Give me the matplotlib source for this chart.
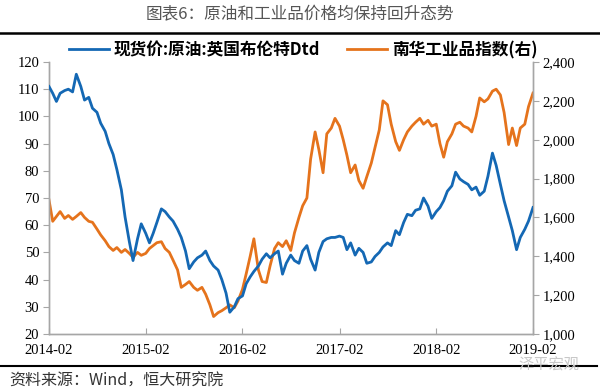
import numpy as np
import pandas as pd
import matplotlib
matplotlib.use("Agg")
import matplotlib.pyplot as plt
import matplotlib.dates as mdates
from matplotlib.ticker import FuncFormatter, MultipleLocator

CJK = ['Noto Sans CJK SC', 'DejaVu Sans']
NUM = ['Liberation Serif', 'DejaVu Serif']

# semi-monthly points, 2014-02 .. 2019-02
dates = pd.date_range('2014-02-01', periods=121, freq='SMS')

brent = [
    111, 108.5, 105.5, 108.5, 109.5, 110, 109, 115.5, 111, 106,
    107, 103, 101.5, 97.5, 94.5, 90, 86, 80.5, 73, 63,
    54, 47, 55, 60.5, 57, 53.5, 57, 61, 66, 65,
    63, 61.5, 58.5, 55.5, 50.5, 44, 46.5, 48, 49, 50.5,
    47, 45, 43.5, 40, 35, 28, 30, 33, 34, 38.5,
    41, 43, 45, 47.5, 49.5, 48, 49.5, 50.5, 42, 46,
    49, 47, 46, 50.5, 52.5, 47.5, 43.5, 50, 54, 55,
    55.5, 55.5, 56, 55.5, 51, 53.5, 49, 51.5, 50, 46,
    46.5, 48.5, 50, 52, 53.5, 52.5, 58, 56.5, 61, 64,
    63.5, 65.5, 66, 70, 67, 62.5, 65, 66.5, 69, 72.5,
    74.5, 79.5, 77, 76, 75, 73, 74, 71, 72.5, 78,
    86.5, 82, 75, 69, 63, 58, 51, 55.5, 58.5, 61.5,
    66.5,
]

nanhua = [
    1690, 1580, 1605, 1630, 1595, 1610, 1590, 1605, 1625, 1600,
    1580, 1575, 1540, 1510, 1480, 1450, 1430, 1445, 1420, 1435,
    1415, 1395, 1420, 1405, 1415, 1440, 1455, 1470, 1475, 1440,
    1420, 1380, 1330, 1240, 1255, 1270, 1240, 1225, 1240, 1205,
    1150, 1090, 1110, 1120, 1135, 1150, 1135, 1170, 1230, 1310,
    1400, 1490, 1330, 1270, 1265, 1350, 1440, 1470, 1450, 1480,
    1430, 1520, 1600, 1660, 1700, 1900, 2040, 1950, 1830, 2030,
    2060, 2110, 2070, 2000, 1920, 1830, 1870, 1790, 1750, 1810,
    1880, 1960, 2050, 2200, 2180, 2080, 1990, 1945, 2000, 2040,
    2070, 2090, 2110, 2080, 2100, 2070, 2080, 1980, 1910, 1990,
    2030, 2080, 2090, 2070, 2060, 2040, 2120, 2215, 2195, 2210,
    2250, 2260, 2230, 2140, 1975, 2060, 1970, 2060, 2080, 2170,
    2240,
]

tick_dates = pd.to_datetime(['2014-02-01', '2015-02-01', '2016-02-01',
                             '2017-02-01', '2018-02-01', '2019-02-01'])

blue = '#1468B4'
orange = '#E5731C'
axis_gray = '#A6A6A6'

fig = plt.figure(figsize=(6, 3.92), dpi=100)
ax = fig.add_axes([49 / 600, 1 - 334 / 392, 484 / 600, 272 / 392])
ax2 = ax.twinx()

l1, = ax.plot(dates, brent, color=blue, lw=2.0, zorder=3)
l2, = ax2.plot(dates, nanhua, color=orange, lw=2.0, zorder=2)
ax.set_zorder(ax2.get_zorder() + 1)
ax.patch.set_visible(False)

ax.set_ylim(20, 120)
ax.yaxis.set_major_locator(MultipleLocator(10))
ax2.set_ylim(1000, 2400)
ax2.yaxis.set_major_locator(MultipleLocator(200))
ax2.yaxis.set_major_formatter(FuncFormatter(lambda v, p: '{:,.0f}'.format(v)))

ax.set_xlim(dates[0], dates[-1])
ax.set_xticks(tick_dates)
ax.xaxis.set_major_formatter(mdates.DateFormatter('%Y-%m'))

for a in (ax, ax2):
    for s in a.spines.values():
        s.set_color(axis_gray)
        s.set_linewidth(1.0)
    a.spines['top'].set_visible(False)
ax.tick_params(axis='y', direction='out', length=4, color=axis_gray, pad=3)
ax2.tick_params(axis='y', direction='out', length=4, color=axis_gray, pad=3)
ax.tick_params(axis='x', direction='in', length=4, color=axis_gray, pad=7)
for lab in ax.get_xticklabels() + ax.get_yticklabels() + ax2.get_yticklabels():
    lab.set_family(NUM)
    lab.set_fontsize(10.5)

# title and rules
fig.text(0.5, 1 - 15 / 392, '图表6：原油和工业品价格均保持回升态势', ha='center', va='center',
         family=CJK, fontsize=12, color='#555555')
fig.add_artist(plt.Line2D([0, 1], [1 - 33 / 392] * 2, color='black', lw=1.8))
fig.add_artist(plt.Line2D([0, 0.995], [1 - 366 / 392] * 2, color='black', lw=1.5))

fig.legend([l1, l2], ['现货价:原油:英国布伦特Dtd', '南华工业品指数(右)'],
           loc='center', bbox_to_anchor=(0.505, 1 - 50 / 392), ncol=2, frameon=False,
           handlelength=2.4, handletextpad=0.3, columnspacing=1.6,
           prop={'family': CJK, 'weight': 'bold', 'size': 12})

fig.text(0.015, 1 - 381 / 392, '资料来源：Wind，恒大研究院', ha='left', va='center',
         family=CJK, fontsize=11.5, color='#333333', style='italic')
fig.text(0.965, 1 - 365 / 392, '泽平宏观', ha='right', va='center',
         family=CJK, fontsize=11, color='#C8C8C8')

fig.savefig('out.png', dpi=100)
